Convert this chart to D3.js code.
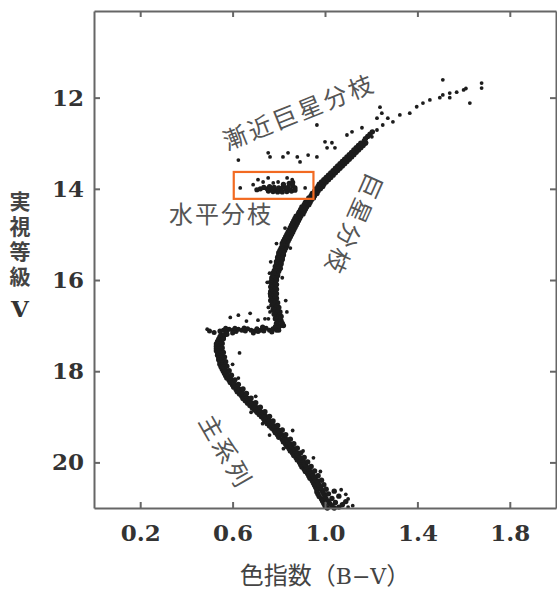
<!DOCTYPE html>
<html>
<head>
<meta charset="utf-8">
<script src="https://cdn.jsdelivr.net/npm/d3@7/dist/d3.min.js"></script>
<style>
  body { margin: 0; background: #fff; }
  .axis path, .axis line { stroke: #666; stroke-width: 2; }
  .axis text { font-family: "DejaVu Serif", serif; font-weight: bold; font-size: 23px; fill: #333; }
  .label { font-family: "Noto Sans CJK JP", sans-serif; fill: #555; }
</style>
</head>
<body>
<div id="chart"></div>
<script>

// Star colours (B-V) and magnitudes (V)
var msStars = [
  [1.01,21.0],[1.04,21.0],[1.06,20.98],
  [1.00,20.95],[1.03,20.95],[1.075,20.93],
  [0.995,20.9],[1.02,20.9],[1.045,20.88],
  [0.99,20.85],[1.015,20.85],[1.09,20.86],
  [0.985,20.8],[1.005,20.8],[1.03,20.79],
  [0.975,20.75],[1.0,20.75],[1.06,20.74],
  [0.97,20.7],[0.995,20.7],[1.015,20.69],
  [0.965,20.65],[0.99,20.65],[1.04,20.63],
  [0.965,20.6],[0.985,20.6],[1.005,20.59],
  [0.96,20.55],[0.98,20.55],
  [0.955,20.5],[0.975,20.5],[0.995,20.49],
  [0.95,20.45],[0.97,20.45],
  [0.945,20.4],[0.965,20.4],[0.985,20.39],
  [0.935,20.35],[0.955,20.35],
  [0.93,20.3],[0.95,20.3],[0.97,20.29],
  [0.925,20.25],[0.945,20.25],
  [0.915,20.2],[0.935,20.2],[0.955,20.19],
  [0.91,20.15],[0.93,20.15],
  [0.9,20.1],[0.92,20.1],[0.94,20.09],
  [0.895,20.05],[0.915,20.05],
  [0.89,20.0],[0.91,20.0],[0.925,19.99],
  [0.88,19.95],[0.9,19.95],
  [0.875,19.9],[0.895,19.9],[0.91,19.89],
  [0.865,19.85],[0.885,19.85],
  [0.86,19.8],[0.88,19.8],[0.895,19.79],
  [0.85,19.75],[0.87,19.75],
  [0.845,19.7],[0.865,19.7],[0.88,19.69],
  [0.835,19.65],[0.855,19.65],
  [0.83,19.6],[0.85,19.6],[0.865,19.59],
  [0.82,19.55],[0.84,19.55],
  [0.815,19.5],[0.835,19.5],[0.85,19.49],
  [0.8,19.45],[0.825,19.45],
  [0.795,19.4],[0.815,19.4],[0.83,19.39],
  [0.785,19.35],[0.805,19.35],
  [0.78,19.3],[0.8,19.3],[0.815,19.29],
  [0.77,19.25],[0.79,19.25],
  [0.76,19.2],[0.78,19.2],[0.795,19.19],
  [0.75,19.15],[0.77,19.15],
  [0.74,19.1],[0.76,19.1],[0.775,19.09],
  [0.735,19.05],[0.755,19.05],
  [0.725,19.0],[0.745,19.0],[0.76,18.99],
  [0.715,18.95],[0.735,18.95],
  [0.705,18.9],[0.725,18.9],[0.74,18.89],
  [0.695,18.85],[0.715,18.85],
  [0.685,18.8],[0.705,18.8],[0.72,18.79],
  [0.675,18.75],[0.695,18.75],
  [0.665,18.7],[0.685,18.7],[0.7,18.69],
  [0.655,18.65],[0.675,18.65],
  [0.645,18.6],[0.665,18.6],[0.68,18.59],
  [0.64,18.55],[0.655,18.55],
  [0.63,18.5],[0.645,18.5],[0.66,18.49],
  [0.62,18.45],[0.64,18.45],
  [0.615,18.4],[0.63,18.4],[0.645,18.39],
  [0.605,18.35],[0.62,18.35],
  [0.6,18.3],[0.61,18.3],[0.625,18.29],
  [0.59,18.25],[0.605,18.25],
  [0.585,18.2],[0.595,18.2],[0.61,18.19],
  [0.575,18.15],[0.59,18.15],
  [0.57,18.1],[0.58,18.1],[0.595,18.09],
  [0.565,18.05],[0.575,18.05],
  [0.56,18.0],[0.57,18.0],[0.585,17.99],
  [0.555,17.95],[0.565,17.95],
  [0.55,17.9],[0.56,17.9],[0.575,17.89],
  [0.545,17.85],[0.56,17.85],
  [0.545,17.8],[0.555,17.8],[0.57,17.79],
  [0.54,17.75],[0.555,17.75],
  [0.54,17.7],[0.55,17.7],[0.565,17.69],
  [0.535,17.65],[0.55,17.65],
  [0.535,17.6],[0.545,17.6],[0.56,17.59],
  [0.53,17.55],[0.545,17.55],
  [0.53,17.5],[0.54,17.5],[0.555,17.49],
  [0.53,17.45],[0.545,17.45],
  [0.53,17.4],[0.54,17.4],[0.555,17.39],
  [0.535,17.35],[0.55,17.35],
  [0.54,17.3],[0.55,17.3],[0.56,17.29],
  [0.545,17.25],[0.56,17.25],
  [0.55,17.2],[0.565,17.2],[0.575,17.19]
];

// stray stars scattered off the main sequence
var msStray = [
  [0.63,17.6],[0.625,18.15],[0.70,18.55],[0.73,19.15],[0.76,19.4],[0.86,19.3],
  [0.95,19.9],[1.07,20.6],[1.1,20.8],[1.12,20.95],[1.09,20.7],[0.98,20.2],
  [0.6,17.85],[0.82,19.7],[0.905,19.75],[0.68,18.9],[1.1,20.98],[1.08,20.9]
];

var sgbStars = [
  [0.50,17.12],[0.52,17.15],[0.545,17.12],[0.56,17.1],[0.575,17.12],[0.585,17.08],
  [0.60,17.1],[0.615,17.13],[0.625,17.08],[0.64,17.1],[0.655,17.12],[0.665,17.07],
  [0.68,17.1],[0.695,17.12],[0.705,17.07],[0.72,17.1],[0.735,17.12],[0.745,17.06],
  [0.76,17.1],[0.775,17.07],[0.79,17.1],[0.80,17.04],[0.81,17.0],[0.57,17.06],
  [0.60,17.16],[0.65,17.05],[0.69,17.16],[0.73,17.04],[0.77,17.14],[0.80,17.1],
  [0.73,17.03],[0.61,17.06],[0.71,17.13],[0.785,17.02]
];

var sgbStray = [
  [0.49,17.08],[0.59,16.82],[0.625,16.77],[0.676,16.73],[0.71,16.88],[0.762,16.7],
  [0.806,16.82],[0.66,16.9],[0.74,16.85]
];

var rgbStars = [
  [0.80,17.0],[0.82,17.0],[0.79,16.95],[0.815,16.95],[0.795,16.9],[0.81,16.9],
  [0.785,16.85],[0.805,16.85],[0.79,16.8],[0.81,16.8],[0.78,16.75],[0.80,16.75],
  [0.785,16.7],[0.805,16.7],[0.775,16.65],[0.795,16.65],[0.78,16.6],[0.80,16.6],
  [0.77,16.55],[0.79,16.55],[0.775,16.5],[0.795,16.5],[0.765,16.45],[0.785,16.45],
  [0.77,16.4],[0.79,16.4],[0.765,16.35],[0.785,16.35],[0.77,16.3],[0.79,16.3],
  [0.765,16.25],[0.785,16.25],[0.77,16.2],[0.79,16.2],[0.765,16.15],[0.785,16.15],
  [0.77,16.1],[0.79,16.1],[0.765,16.05],[0.785,16.05],[0.77,16.0],[0.79,16.0],
  [0.77,15.95],[0.79,15.95],[0.775,15.9],[0.795,15.9],[0.775,15.85],[0.795,15.85],
  [0.78,15.8],[0.80,15.8],[0.785,15.75],[0.805,15.75],[0.785,15.7],[0.805,15.7],
  [0.79,15.65],[0.81,15.65],[0.79,15.6],[0.81,15.6],[0.795,15.55],[0.815,15.55],
  [0.795,15.5],[0.815,15.5],[0.80,15.45],[0.82,15.45],[0.80,15.4],[0.82,15.4],
  [0.805,15.35],[0.825,15.35],[0.81,15.3],[0.83,15.3],[0.815,15.25],[0.835,15.25],
  [0.815,15.2],[0.835,15.2],[0.82,15.15],[0.84,15.15],[0.825,15.1],[0.845,15.1],
  [0.83,15.05],[0.85,15.05],[0.835,15.0],[0.855,15.0],[0.84,14.95],[0.86,14.95],
  [0.845,14.9],[0.865,14.9],[0.85,14.85],[0.87,14.85],[0.855,14.8],[0.875,14.8],
  [0.86,14.75],[0.88,14.75],[0.865,14.7],[0.885,14.7],[0.87,14.65],[0.89,14.65],
  [0.875,14.6],[0.895,14.6],[0.885,14.55],[0.905,14.55],[0.89,14.5],[0.91,14.5],
  [0.895,14.45],[0.915,14.45],[0.90,14.4],[0.92,14.4],[0.91,14.35],[0.93,14.35],
  [0.915,14.3],[0.935,14.3],[0.925,14.25],[0.94,14.25],[0.93,14.2],[0.95,14.2],
  [0.94,14.15],[0.955,14.15],[0.945,14.1],[0.965,14.1],[0.955,14.05],[0.97,14.05],
  [0.96,14.0],[0.98,14.0],[0.97,13.95],[0.99,13.95],[0.975,13.9],[0.995,13.9],
  [0.985,13.85],[1.005,13.85],[0.995,13.8],[1.015,13.8],[1.005,13.75],[1.025,13.75],
  [1.015,13.7],[1.035,13.7],[1.025,13.65],[1.045,13.65],[1.035,13.6],[1.055,13.6],
  [1.045,13.55],[1.065,13.55],[1.055,13.5],[1.075,13.5],[1.065,13.45],[1.085,13.45],
  [1.075,13.4],[1.095,13.4],[1.085,13.35],[1.105,13.35],[1.095,13.3],[1.115,13.3],
  [1.105,13.25],[1.125,13.25],[1.115,13.2],[1.135,13.2],[1.125,13.15],[1.145,13.15],
  [1.135,13.1],[1.155,13.1],[1.145,13.05],[1.165,13.05],[1.155,13.0],[1.175,13.0],
  [1.17,12.95],[1.175,12.9],[1.185,12.85],[1.195,12.8],[1.205,12.75]
];

var rgbStray = [
  [0.755,16.6],[0.76,16.3],[0.83,16.45],[0.75,16.05],[0.815,15.95],[0.765,15.6],
  [0.884,14.51],[0.827,14.86],[0.85,15.3],[0.79,15.2],[0.755,16.85],[0.835,16.7],
  [0.81,15.75],[0.76,15.85]
];

var tipStars = [
  [1.203,12.86],[1.18,12.99],[1.225,12.71],[1.25,12.6],[1.238,12.21],[1.246,12.34],
  [1.272,12.45],[1.294,12.53],[1.324,12.38],[1.367,12.34],[1.397,12.2],[1.424,12.12],
  [1.454,12.05],[1.51,11.94],[1.54,11.9],[1.51,11.61],[1.57,11.88],[1.6,11.83],
  [1.61,11.8],[1.627,12.12],[1.678,11.68],[1.678,11.79],[1.497,12.0],[1.54,12.0]
];

var hbStars = [
  [0.75,14.0],[0.76,13.95],[0.77,14.02],[0.78,13.97],[0.79,14.03],[0.80,13.98],
  [0.81,14.02],[0.82,13.95],[0.83,14.0],[0.84,13.97],[0.85,14.02],[0.86,13.93],
  [0.87,13.98],[0.755,14.05],[0.775,14.06],[0.795,14.07],[0.815,14.07],[0.835,14.06],
  [0.855,14.05],[0.87,14.03],[0.82,13.9],[0.845,13.88],[0.86,13.86],[0.72,14.0],
  [0.735,13.97],[0.705,14.02]
];

var hbStray = [
  [0.633,13.98],[0.914,13.98],[0.689,13.91],[0.71,13.8],[0.732,13.85],[0.754,13.76],
  [0.776,13.87],[0.797,13.85],[0.836,13.76],[0.858,13.8]
];

var agbStars = [
  [0.625,13.37],[0.754,13.21],[0.762,13.3],[0.818,13.3],[0.84,13.21],[0.892,13.41],
  [0.927,13.26],[0.965,13.3],[1.009,13.1],[1.03,12.99],[1.043,13.1],[1.095,12.82],
  [1.117,12.75],[0.965,12.6],[1.16,12.66],[1.225,12.45],[1.0,12.97],[0.88,13.3]
];

// Horizontal branch box (B-V from, to, V from, to)
var hbBox = [0.605, 0.95, 13.63, 14.22];

var xTicks = [0.2, 0.6, 1.0, 1.4, 1.8];
var yTicks = [12, 14, 16, 18, 20];

var labelText = ["漸近巨星分枝", "水平分枝", "巨星分枝", "主系列"];
var labelAt = [[0.885, 12.28], [0.55, 14.51], [1.13, 14.8], [0.577, 19.75]];
var labelAngle = [-22, 0, 114, 60];

// Dimensions
var cmd_width = 557, cmd_height = 590;
var cmd_margin = {top: 11, right: 556, bottom: 508, left: 94};

var svg = d3.select("#chart")
  .append("svg")
    .attr("width", cmd_width)
    .attr("height", cmd_height);

var x = d3.scaleLinear().domain([0, 2.0]).range([cmd_margin.left, cmd_margin.right]);
var y = d3.scaleLinear().domain([10.1, 21]).range([cmd_margin.top, cmd_margin.bottom]);

// Stars: dense branches drawn with slightly bigger dots so they merge into a band
function addStars(data, r) {
  svg.append("g")
    .selectAll("circle")
    .data(data)
    .enter()
      .append("circle")
        .attr("cx", function(d) { return x(d[0]); })
        .attr("cy", function(d) { return y(d[1]); })
        .attr("r", r)
        .style("fill", "#1c1c1c");
}
addStars(msStars, 2.7);
addStars(sgbStars, 2.5);
addStars(rgbStars, 2.7);
addStars(hbStars, 2.6);
addStars(msStray.concat(sgbStray, rgbStray, tipStars, hbStray, agbStars), 1.9);

// Axes (inward ticks on all four sides)
svg.append("g")
    .attr("class", "axis")
    .attr("transform", "translate(0," + cmd_margin.bottom + ")")
    .call(d3.axisBottom(x).tickValues(xTicks).tickSizeInner(-6).tickSizeOuter(0)
      .tickPadding(17).tickFormat(d3.format(".1f")));
svg.append("g")
    .attr("class", "axis")
    .attr("transform", "translate(0," + cmd_margin.top + ")")
    .call(d3.axisTop(x).tickValues(xTicks).tickSizeInner(-6).tickSizeOuter(0).tickFormat(""));
svg.append("g")
    .attr("class", "axis")
    .attr("transform", "translate(" + cmd_margin.left + ",0)")
    .call(d3.axisLeft(y).tickValues(yTicks).tickSizeInner(-6).tickSizeOuter(0)
      .tickPadding(10).tickFormat(d3.format("d")));
svg.append("g")
    .attr("class", "axis")
    .attr("transform", "translate(" + cmd_margin.right + ",0)")
    .call(d3.axisRight(y).tickValues(yTicks).tickSizeInner(-6).tickSizeOuter(0).tickFormat(""));

// Orange box round the horizontal branch
svg.append("rect")
    .attr("x", x(hbBox[0]))
    .attr("y", y(hbBox[2]))
    .attr("width", x(hbBox[1]) - x(hbBox[0]))
    .attr("height", y(hbBox[3]) - y(hbBox[2]))
    .attr("fill", "none")
    .attr("stroke", "#f26a21")
    .attr("stroke-width", 2.2);

// Branch labels
labelText.forEach(function(t, i) {
  svg.append("text")
      .attr("class", "label")
      .attr("transform", "translate(" + x(labelAt[i][0]) + "," + y(labelAt[i][1]) + ") rotate(" + labelAngle[i] + ")")
      .attr("text-anchor", "middle")
      .attr("dominant-baseline", "central")
      .style("font-size", "24px")
      .style("letter-spacing", i == 1 ? "2px" : "3px")
      .text(t);
});

// Y title, written vertically
svg.append("text")
    .attr("x", 20)
    .attr("y", 191)
    .style("writing-mode", "vertical-rl")
    .style("font-family", "'Noto Sans CJK JP', sans-serif")
    .style("font-weight", "bold")
    .style("font-size", "21px")
    .style("letter-spacing", "4px")
    .style("fill", "#444")
    .text("実視等級");
svg.append("text")
    .attr("x", 20)
    .attr("y", 308)
    .attr("text-anchor", "middle")
    .attr("dominant-baseline", "central")
    .style("font-family", "'DejaVu Serif', serif")
    .style("font-weight", "bold")
    .style("font-size", "23px")
    .style("fill", "#333")
    .text("V");

// X title
var xTitle = svg.append("text")
    .attr("x", (cmd_margin.left + cmd_margin.right) / 2)
    .attr("y", 584)
    .attr("text-anchor", "middle")
    .style("font-family", "'Noto Sans CJK JP', sans-serif")
    .style("font-size", "24px")
    .style("fill", "#444");
xTitle.append("tspan").text("色指数（");
xTitle.append("tspan")
    .style("font-family", "'DejaVu Serif', serif")
    .style("font-size", "22px")
    .text("B−V");
xTitle.append("tspan").text("）");

</script>
</body>
</html>
